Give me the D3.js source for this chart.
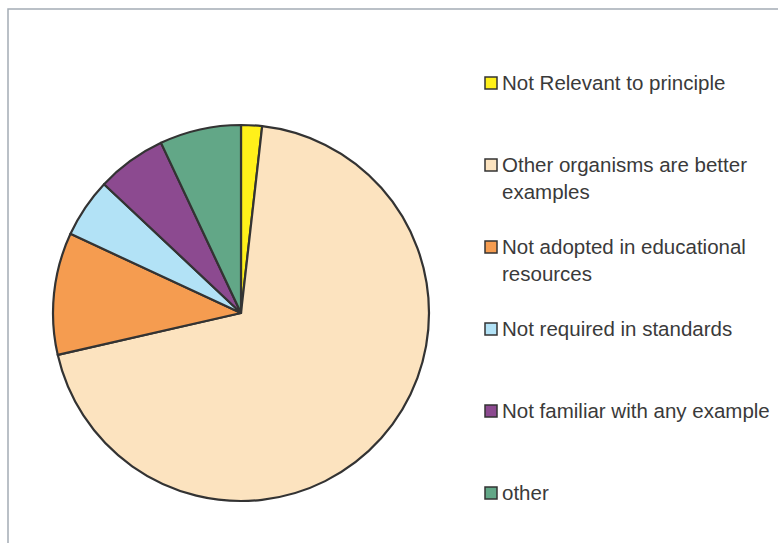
<!DOCTYPE html>
<html>
<head>
<meta charset="utf-8">
<script src="https://cdn.jsdelivr.net/npm/d3@7"></script>
<style>
  body { margin: 0; background: #fff; }
  svg { display: block; }
</style>
</head>
<body>
<svg id="chart" width="778" height="543"></svg>
<script>
const categories = [
  "Not Relevant to principle",
  "Other organisms are better examples",
  "Not adopted in educational resources",
  "Not required in standards",
  "Not familiar with any example",
  "other"
];
const values = [1.8, 69.7, 10.5, 5.1, 6.0, 7.0];
const colors = ["#FFF01A", "#FCE3BF", "#F59C50", "#B2E2F6", "#8C4A90", "#62A787"];
const legendLines = [
  ["Not Relevant to principle"],
  ["Other organisms are better", "examples"],
  ["Not adopted in educational", "resources"],
  ["Not required in standards"],
  ["Not familiar with any example"],
  ["other"]
];

const svg = d3.select("#chart");

// outer frame
svg.append("rect")
  .attr("x", 8).attr("y", 9)
  .attr("width", 790).attr("height", 560)
  .attr("fill", "none")
  .attr("stroke", "#a4acb5")
  .attr("stroke-width", 1.5);

const cx = 241, cy = 313, r = 188;
const pie = d3.pie().sort(null).value(d => d);
const arc = d3.arc().innerRadius(0).outerRadius(r);

const g = svg.append("g").attr("transform", `translate(${cx},${cy})`);
g.selectAll("path")
  .data(pie(values))
  .join("path")
  .attr("d", arc)
  .attr("fill", (d, i) => colors[i])
  .attr("stroke", "#333")
  .attr("stroke-width", 2.2)
  .attr("stroke-linejoin", "round");

// legend
const color = d3.scaleOrdinal().domain(categories).range(colors);
const legendY = d3.scalePoint().domain(categories).range([83, 493]);

const lg = svg.append("g");
const items = lg.selectAll("g")
  .data(categories)
  .join("g")
  .attr("transform", d => `translate(485,${legendY(d)})`);

items.append("rect")
  .attr("x", 0).attr("y", -6)
  .attr("width", 12).attr("height", 12)
  .attr("fill", d => color(d))
  .attr("stroke", "#333")
  .attr("stroke-width", 1.5);

items.each(function(d, i) {
  const t = d3.select(this).append("text")
    .attr("x", 17)
    .attr("y", 7)
    .attr("font-family", "Liberation Sans, Arial, sans-serif")
    .attr("font-size", 20.5)
    .attr("fill", "#3a3a3a");
  legendLines[i].forEach((line, k) => {
    t.append("tspan")
      .attr("x", 17)
      .attr("dy", k === 0 ? 0 : 27)
      .text(line);
  });
});
</script>
</body>
</html>
